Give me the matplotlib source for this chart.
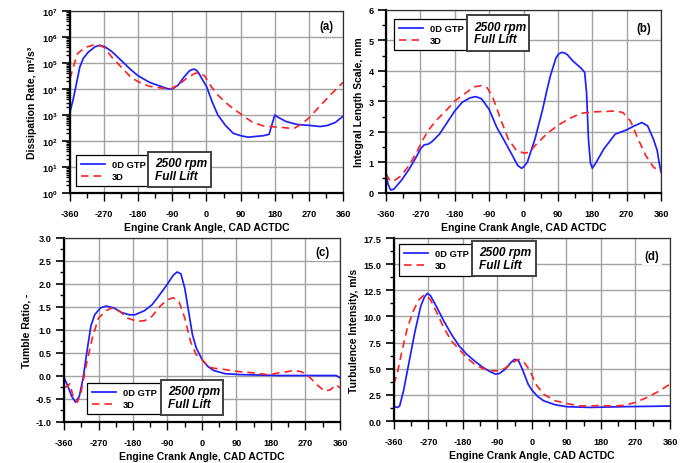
import numpy as np
import matplotlib
matplotlib.use("Agg")
import matplotlib.pyplot as plt
from matplotlib.ticker import MultipleLocator, LogLocator, NullFormatter, FuncFormatter
from matplotlib.patches import Rectangle

plt.rcParams['font.family'] = ['Liberation Sans', 'DejaVu Sans']
plt.rcParams['font.weight'] = 'bold'
plt.rcParams['axes.unicode_minus'] = False
plt.rcParams['mathtext.fontset'] = 'custom'
plt.rcParams['mathtext.rm'] = 'Liberation Sans:bold'
plt.rcParams['mathtext.bf'] = 'Liberation Sans:bold'

# (a) dissipation rate, m2/s3
cad_a_0d = [-360, -351, -342, -334, -325, -312, -294, -281, -268, -250, -225, -200, -180, -150,
            -120, -100, -90, -75, -60, -45, -38, -32, -26, -20, -10, 0, 15, 30, 50, 70, 90, 110,
            130, 150, 165, 172, 180, 190, 210, 240, 270, 300, 320, 340, 360]
eps_0d = [1.3e3, 4.3e3, 1.9e4, 7.0e4, 1.5e5, 2.6e5, 4.2e5, 4.8e5, 4.2e5, 2.8e5, 1.26e5, 5.6e4,
          3.2e4, 1.8e4, 1.26e4, 1.0e4, 1.0e4, 1.4e4, 2.8e4, 5.0e4, 5.6e4, 5.8e4, 5.2e4, 4.0e4,
          2.2e4, 1.26e4, 3.2e3, 1.0e3, 4.0e2, 2.0e2, 1.6e2, 1.4e2, 1.5e2, 1.6e2, 1.8e2, 4.0e2,
          1.0e3, 8.0e2, 5.6e2, 4.3e2, 4.0e2, 3.6e2, 4.0e2, 5.2e2, 9.0e2]
cad_a_3d = [-360, -350, -340, -320, -300, -290, -270, -250, -225, -200, -180, -150, -120, -100,
            -90, -70, -50, -30, -20, -5, 10, 30, 60, 90, 120, 150, 180, 210, 230, 250, 270,
            300, 330, 360]
eps_3d = [2.5e4, 8.0e4, 2.3e5, 4.0e5, 4.8e5, 5.2e5, 4.0e5, 1.7e5, 7.0e4, 2.9e4, 1.9e4, 1.26e4,
          1.1e4, 1.0e4, 1.07e4, 1.6e4, 2.75e4, 4.0e4, 4.2e4, 3.2e4, 1.4e4, 5.8e3, 2.3e3, 1.1e3,
          5.4e2, 3.8e2, 3.5e2, 3.2e2, 3.0e2, 4.5e2, 7.6e2, 2.3e3, 6.6e3, 1.8e4]

# (b) integral length scale, mm
cad_b_0d = [-360, -355, -348, -340, -320, -300, -280, -270, -260, -250, -240, -220, -200, -180,
            -160, -140, -125, -110, -90, -70, -50, -30, -15, -5, 0, 10, 30, 50, 60, 70, 78, 85,
            92, 100, 108, 115, 130, 150, 160, 165, 170, 175, 180, 190, 210, 240, 270, 290, 310,
            325, 340, 350, 355, 360]
ils_0d = [0.63, 0.3, 0.1, 0.12, 0.41, 0.77, 1.2, 1.44, 1.58, 1.6, 1.68, 1.93, 2.31, 2.69, 2.98,
          3.12, 3.16, 3.09, 2.74, 2.15, 1.71, 1.25, 0.9, 0.81, 0.85, 1.01, 1.77, 2.74, 3.3, 3.83,
          4.15, 4.43, 4.56, 4.61, 4.59, 4.53, 4.32, 4.1, 3.96, 3.3, 1.77, 1.0, 0.81, 1.0, 1.44,
          1.93, 2.07, 2.2, 2.31, 2.2, 1.77, 1.39, 1.0, 0.68]
cad_b_3d = [-360, -350, -340, -320, -300, -280, -265, -250, -230, -200, -180, -150, -130, -110,
            -95, -80, -60, -40, -20, 0, 15, 30, 60, 90, 120, 150, 180, 210, 240, 260, 280,
            300, 320, 340, 360]
ils_3d = [0.63, 0.41, 0.39, 0.57, 0.9, 1.33, 1.71, 2.04, 2.36, 2.74, 3.02, 3.29, 3.48, 3.52,
          3.45, 3.12, 2.42, 1.77, 1.42, 1.31, 1.33, 1.55, 1.93, 2.22, 2.44, 2.61, 2.66, 2.67,
          2.69, 2.64, 2.36, 1.77, 1.23, 0.85, 0.68]

# (c) tumble ratio
cad_c_0d = [-360, -350, -340, -330, -320, -310, -300, -290, -280, -265, -250, -230, -210, -190,
            -175, -150, -130, -110, -90, -75, -65, -55, -45, -35, -25, -15, 0, 15, 30, 60,
            100, 200, 300, 350, 360]
tr_0d = [-0.03, -0.22, -0.44, -0.57, -0.44, -0.04, 0.54, 1.08, 1.33, 1.48, 1.52, 1.48, 1.38,
         1.33, 1.33, 1.42, 1.55, 1.77, 2.0, 2.19, 2.26, 2.22, 1.91, 1.41, 0.9, 0.61, 0.36,
         0.21, 0.12, 0.05, 0.03, 0.01, 0.01, 0.01, -0.04]
cad_c_3d = [-360, -350, -345, -335, -325, -315, -300, -285, -270, -250, -235, -215, -195, -170,
            -150, -130, -110, -90, -75, -60, -45, -30, -15, 0, 15, 30, 60, 90, 130, 170, 185,
            200, 220, 240, 260, 280, 300, 320, 335, 350, 360]
tr_3d = [-0.25, -0.22, -0.17, -0.48, -0.57, -0.33, 0.32, 0.86, 1.26, 1.42, 1.48, 1.41, 1.26,
         1.19, 1.2, 1.3, 1.51, 1.66, 1.7, 1.62, 1.26, 0.75, 0.46, 0.36, 0.21, 0.17, 0.14, 0.1,
         0.07, 0.03, 0.04, 0.07, 0.09, 0.12, 0.09, -0.02, -0.19, -0.33, -0.3, -0.19, -0.26]

# (d) turbulence intensity, m/s
cad_d_0d = [-360, -350, -345, -335, -320, -305, -290, -280, -273, -265, -250, -230, -210, -190,
            -170, -150, -130, -110, -95, -85, -70, -55, -45, -35, -25, -10, 0, 15, 30, 60, 90,
            150, 240, 360]
ti_0d = [1.37, 1.3, 1.46, 2.9, 5.75, 8.6, 11.0, 11.9, 12.2, 12.0, 11.0, 9.56, 8.29, 7.18, 6.38,
         5.75, 5.18, 4.73, 4.48, 4.54, 4.95, 5.59, 5.9, 5.75, 4.95, 3.52, 2.95, 2.35, 1.94,
         1.56, 1.37, 1.3, 1.37, 1.43]
cad_d_3d = [-360, -350, -340, -325, -310, -295, -283, -275, -265, -250, -230, -210, -190, -170,
            -150, -130, -110, -90, -70, -50, -35, -20, -5, 10, 30, 60, 90, 120, 150, 180, 210,
            240, 270, 300, 330, 360]
ti_3d = [3.52, 4.8, 6.54, 8.92, 10.5, 11.6, 12.0, 12.0, 11.6, 10.5, 8.92, 7.65, 6.86, 6.07, 5.43,
         5.05, 4.8, 4.8, 5.05, 5.59, 5.9, 5.59, 4.8, 3.52, 2.57, 1.94, 1.68, 1.46, 1.43, 1.49,
         1.43, 1.49, 1.78, 2.25, 2.83, 3.52]

xticks = [-360, -270, -180, -90, 0, 90, 180, 270, 360]
series_names = ['0D GTP', '3D']
case_text = '2500 rpm\nFull Lift'


def style_axes(ax, ylabel, tag, leg_pos, box_pos, tag_pos):
    ax.set_xlim(-360, 360)
    ax.set_xticks(xticks)
    ax.xaxis.set_minor_locator(MultipleLocator(45))
    ax.grid(True, which='major', color='#a3a3a3', lw=1.0)
    ax.set_axisbelow(True)
    ax.tick_params(axis='x', which='major', direction='out', length=6, width=1.0,
                   pad=5.5, labelsize=6.6)
    ax.tick_params(axis='x', which='minor', direction='out', length=3.5, width=1.0)
    ax.tick_params(axis='y', which='major', direction='out', length=6, width=1.2,
                   pad=3, labelsize=6.6)
    ax.tick_params(axis='y', which='minor', direction='out', length=3, width=1.0)
    for side in ['left', 'bottom']:
        ax.spines[side].set_linewidth(1.6)
    for side in ['top', 'right']:
        ax.spines[side].set_linewidth(0.9)
        ax.spines[side].set_color('#303030')
    ax.set_xlabel('Engine Crank Angle, CAD ACTDC', fontsize=7.5, fontweight='bold', labelpad=3)
    ax.set_ylabel(ylabel, fontsize=7.5, fontweight='bold', labelpad=3)

    leg = ax.legend(series_names, loc='upper left', bbox_to_anchor=leg_pos,
                    borderaxespad=0, fontsize=6.7, handlelength=2.6, handletextpad=0.7,
                    labelspacing=0.35, borderpad=0.55, fancybox=False, framealpha=1,
                    edgecolor='black')
    leg.get_frame().set_linewidth(0.9)
    for t in leg.get_texts():
        t.set_fontweight('bold')
    leg.set_zorder(10)

    x0, y0, x1, y1 = box_pos
    ax.add_patch(Rectangle((x0, y0), x1 - x0, y1 - y0, transform=ax.transAxes,
                           facecolor='white', edgecolor='#404040', lw=1.4, zorder=11))
    ax.text(x0 + 0.025, (y0 + y1) / 2, case_text, transform=ax.transAxes, ha='left',
            va='center', fontsize=8.6, fontweight='bold', style='italic',
            linespacing=1.05, zorder=12)

    ax.text(tag_pos[0], tag_pos[1], tag, transform=ax.transAxes, ha='center', va='center',
            fontsize=8.3, fontweight='bold', zorder=12,
            bbox=dict(boxstyle='square,pad=0.25', facecolor='white', edgecolor='none'))


fig = plt.figure(figsize=(6.86, 4.64), dpi=100)
ax_a = fig.add_axes([0.1020, 0.5819, 0.3980, 0.3922])
ax_b = fig.add_axes([0.5627, 0.5819, 0.4009, 0.3944])
ax_c = fig.add_axes([0.0933, 0.0884, 0.4023, 0.3966])
ax_d = fig.add_axes([0.5743, 0.0905, 0.4023, 0.3944])

blue = dict(color='#1f1fff', lw=1.25, ls='-')
red = dict(color='#ff2020', lw=1.2, ls=(0, (4.5, 3)))

# (a)
ax_a.plot(cad_a_0d, eps_0d, **blue)
ax_a.plot(cad_a_3d, eps_3d, **red)
ax_a.set_yscale('log')
ax_a.set_ylim(1, 1e7)
ax_a.yaxis.set_major_locator(LogLocator(base=10, numticks=10))
ax_a.yaxis.set_minor_locator(LogLocator(base=10, subs=np.arange(2, 10), numticks=20))
ax_a.yaxis.set_minor_formatter(NullFormatter())
ax_a.yaxis.set_major_formatter(FuncFormatter(lambda v, p: r'$\mathbf{10^{%d}}$' % round(np.log10(v))))
style_axes(ax_a, 'Dissipation Rate, m²/s³', '(a)',
           (0.022, 0.209), (0.286, 0.033, 0.516, 0.225), (0.94, 0.918))

# (b)
ax_b.plot(cad_b_0d, ils_0d, **blue)
ax_b.plot(cad_b_3d, ils_3d, **red)
ax_b.set_ylim(0, 6)
ax_b.yaxis.set_major_locator(MultipleLocator(1))
ax_b.yaxis.set_minor_locator(MultipleLocator(0.5))
style_axes(ax_b, 'Integral Length Scale, mm', '(b)',
           (0.029, 0.951), (0.295, 0.776, 0.520, 0.973), (0.938, 0.90))

# (c)
ax_c.plot(cad_c_0d, tr_0d, **blue)
ax_c.plot(cad_c_3d, tr_3d, **red)
ax_c.set_ylim(-1, 3)
ax_c.yaxis.set_major_locator(MultipleLocator(0.5))
ax_c.yaxis.set_minor_locator(MultipleLocator(0.25))
ax_c.yaxis.set_major_formatter(FuncFormatter(lambda v, p: '%.1f' % v))
style_axes(ax_c, 'Tumble Ratio, -', '(c)',
           (0.083, 0.212), (0.351, 0.038, 0.576, 0.228), (0.938, 0.924))

# (d)
ax_d.plot(cad_d_0d, ti_0d, **blue)
ax_d.plot(cad_d_3d, ti_3d, **red)
ax_d.set_ylim(0, 17.5)
ax_d.yaxis.set_major_locator(MultipleLocator(2.5))
ax_d.yaxis.set_minor_locator(MultipleLocator(1.25))
ax_d.yaxis.set_major_formatter(FuncFormatter(lambda v, p: '%.1f' % v))
style_axes(ax_d, 'Turbulence Intensity, m/s', '(d)',
           (0.018, 0.967), (0.283, 0.792, 0.514, 0.984), (0.935, 0.90))

fig.savefig('out.png', dpi=100)
